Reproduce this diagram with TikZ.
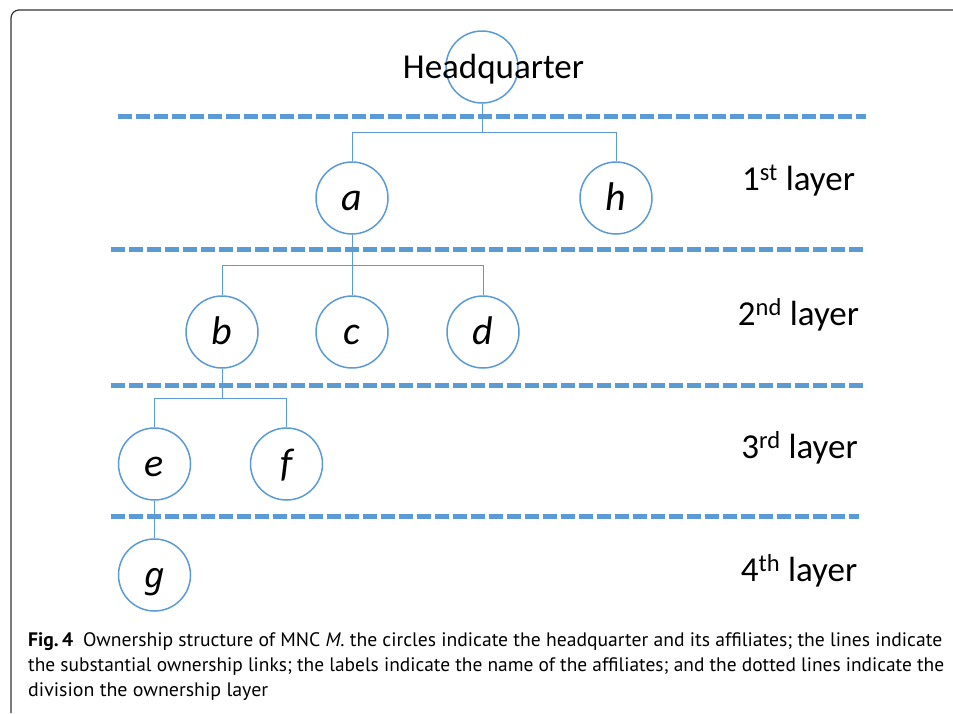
\documentclass[tikz,border=0pt]{standalone}
\usepackage{fontspec}
\setmainfont{Carlito}
\newfontfamily\capfont{PT Sans}
\newfontfamily\gfont{Noto Sans}
\definecolor{cblue}{HTML}{5B9BD5}
\definecolor{frame}{HTML}{333333}
\tikzset{
  circ/.style={circle, draw=cblue, line width=1.5pt, minimum size=72pt, inner sep=0pt, fill=white,
    text height=24pt, text depth=0pt, font=\fontsize{40}{44}\selectfont\itshape},
  link/.style={draw=cblue, line width=1pt},
  divider/.style={draw=cblue, line width=5pt, dash pattern=on 14pt off 4pt},
  layerlbl/.style={anchor=base, inner sep=0pt, font=\fontsize{35}{40}\selectfont},
  capline/.style={anchor=base west, inner sep=0pt, font=\capfont\fontsize{19.5}{24}\selectfont}
}
\begin{document}
\begin{tikzpicture}[x=1pt, y=-1pt]
\useasboundingbox (0,0) rectangle (953,713);
% frame
\draw[frame, line width=1.2pt, rounded corners=8pt] (11,713) -- (11,10) -- (953,10);
% dividers
\coordinate (d1a) at (118,116); \coordinate (d1b) at (866,116);
\coordinate (d2a) at (111,249); \coordinate (d2b) at (866,249);
\coordinate (d3a) at (111,385); \coordinate (d3b) at (865,385);
\coordinate (d4a) at (111,516); \coordinate (d4b) at (859,516);
\draw[divider] (d1a) -- (d1b);
\draw[divider] (d2a) -- (d2b);
\draw[divider] (d3a) -- (d3b);
\draw[divider] (d4a) -- (d4b);
% junctions
\coordinate (j1) at (482,132);
\coordinate (j2) at (352,265);
\coordinate (j3) at (222,398);
% nodes
\node[circ] (hq) at (482,67) {};
\node[circ] (a) at (352,198) {a};
\node[circ] (h) at (616,198) {h};
\node[circ] (b) at (222,332) {b};
\node[circ] (c) at (352,332) {c};
\node[circ] (d) at (483,332) {d};
\node[circ] (e) at (154.5,464) {e};
\node[circ] (f) at (286.5,464) {f};
\node[circ] (g) at (154.5,575) {\gfont\fontsize{35}{40}\selectfont\itshape g};
\node[anchor=base, inner sep=0pt, font=\fontsize{35}{40}\selectfont] (hqt) at (493.5,78) {Headquarter};
% links
\draw[link] (hq.south) -- (j1);
\draw[link] (j1) -| (a.north);
\draw[link] (j1) -| (h.north);
\draw[link] (a.south) -- (j2);
\draw[link] (j2) -| (b.north);
\draw[link] (j2) -- (c.north);
\draw[link] (j2) -| (d.north);
\draw[link] (b.south) -- (j3);
\draw[link] (j3) -| (e.north);
\draw[link] (j3) -| (f.north);
\draw[link] (e.south) -- (g.north);
% layer labels
\node[layerlbl] (l1) at (798.5,190) {1\textsuperscript{st} layer};
\node[layerlbl] (l2) at (798.5,325) {2\textsuperscript{nd} layer};
\node[layerlbl] (l3) at (799.5,458) {3\textsuperscript{rd} layer};
\node[layerlbl] (l4) at (799,581) {4\textsuperscript{th} layer};
% caption
\node[capline] (c1) at (28,646) {\resizebox{914pt}{\height}{\textbf{Fig.\,4}\hspace{0.5em}Ownership structure of MNC \textit{M}. the circles indicate the headquarter and its affiliates; the lines indicate}};
\node[capline] (c2) at (28,671) {\resizebox{916pt}{\height}{the substantial ownership links; the labels indicate the name of the affiliates; and the dotted lines indicate the}};
\node[capline] (c3) at (28,696) {\resizebox{240pt}{\height}{division the ownership layer}};
\end{tikzpicture}
\end{document}
